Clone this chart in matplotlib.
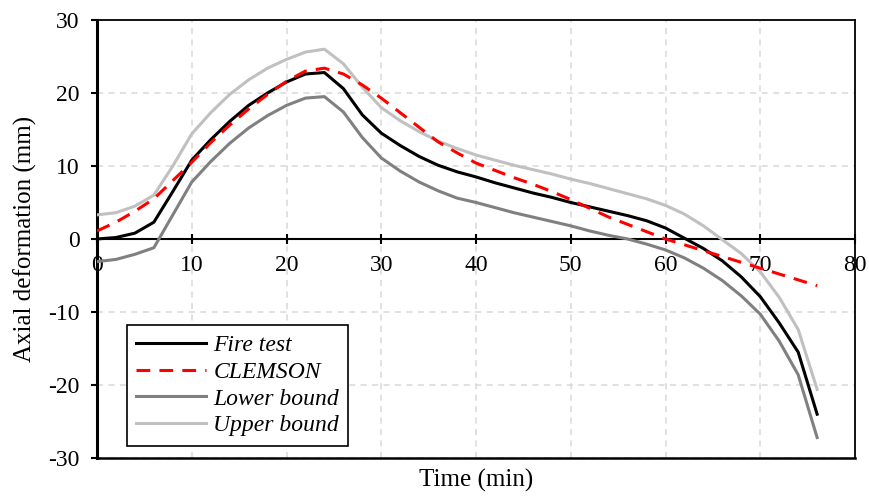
import numpy as np
import matplotlib.pyplot as plt

plt.rcParams['font.family'] = ['Liberation Serif', 'DejaVu Serif']
plt.rcParams['axes.unicode_minus'] = False

# time (min), every 2 minutes
time = np.arange(0, 77, 2)

fire_test = [0.0, 0.2, 0.8, 2.3, 6.5, 10.8, 13.6, 16.1, 18.3, 20.0, 21.5, 22.6, 22.8,
             20.6, 17.0, 14.5, 12.8, 11.3, 10.1, 9.2, 8.5, 7.7, 7.0, 6.3, 5.7, 5.0,
             4.4, 3.8, 3.2, 2.5, 1.5, 0.1, -1.3, -3.0, -5.2, -7.9, -11.5, -15.5, -24.0]
clemson = [1.1, 2.3, 3.8, 5.5, 8.0, 10.5, 13.2, 15.6, 17.8, 19.8, 21.6, 23.0, 23.4,
           22.6, 21.1, 19.3, 17.3, 15.3, 13.3, 11.8, 10.4, 9.4, 8.4, 7.5, 6.5, 5.4,
           4.2, 3.0, 2.0, 1.0, 0.0, -0.8, -1.6, -2.4, -3.2, -4.0, -4.8, -5.6, -6.4]
lower_bound = [-3.1, -2.8, -2.1, -1.2, 3.3, 7.8, 10.6, 13.1, 15.2, 16.9, 18.3, 19.3, 19.5,
               17.4, 13.9, 11.1, 9.3, 7.8, 6.6, 5.6, 5.0, 4.3, 3.6, 3.0, 2.4, 1.8,
               1.1, 0.5, 0.0, -0.7, -1.5, -2.6, -4.0, -5.7, -7.8, -10.3, -14.0, -18.6, -27.2]
upper_bound = [3.3, 3.6, 4.5, 6.0, 10.0, 14.4, 17.3, 19.8, 21.8, 23.4, 24.6, 25.6, 26.0,
               24.0, 20.8, 18.0, 16.2, 14.7, 13.4, 12.4, 11.5, 10.8, 10.1, 9.5, 8.9, 8.2,
               7.6, 6.9, 6.2, 5.5, 4.6, 3.4, 1.8, -0.1, -2.0, -4.5, -8.0, -12.4, -20.6]

x_ticks = [0, 10, 20, 30, 40, 50, 60, 70, 80]
y_ticks = [-30, -20, -10, 0, 10, 20, 30]

fig = plt.figure(figsize=(8.7, 4.97), dpi=100)
ax = fig.add_axes([0.1115, 0.0785, 0.8713, 0.8813])

ax.plot(time, fire_test, color='black', lw=2.2, label='Fire test', zorder=5)
ax.plot(time, clemson, color='#ff0000', lw=2.2, ls=(0, (4.5, 3)), label='CLEMSON', zorder=6)
ax.plot(time, lower_bound, color='#808080', lw=2.2, label='Lower bound', zorder=4)
ax.plot(time, upper_bound, color='#c0c0c0', lw=2.2, label='Upper bound', zorder=3)

ax.set_xlim(0, 80)
ax.set_ylim(-30, 30)
ax.set_xticks(x_ticks)
ax.set_yticks(y_ticks)

ax.set_axisbelow(True)
ax.grid(True, ls=(0, (4, 3.5)), color='#d9d9d9', lw=1.1)

# x axis crosses at y = 0, frame kept all round
ax.spines['bottom'].set_position(('data', 0))
for s in ['left', 'bottom', 'top', 'right']:
    ax.spines[s].set_color('black')
ax.spines['bottom'].set_linewidth(1.5)
ax.spines['left'].set_linewidth(2.2)
ax.spines['top'].set_linewidth(1.3)
ax.spines['right'].set_linewidth(1.3)
ax.plot([0, 1], [0, 0], transform=ax.transAxes, color='black', lw=1.8, clip_on=False)

ax.tick_params(axis='x', direction='inout', length=7, width=1.5, labelsize=17, pad=8)
ax.tick_params(axis='y', direction='out', length=4, width=1.5, labelsize=17, pad=8.5)

fig.text(0.029, 0.519, 'Axial deformation (mm)', rotation=90, ha='center', va='center', fontsize=18)
fig.text(0.547, 0.034, 'Time (min)', ha='center', va='center', fontsize=18)

leg = ax.legend(loc='lower left', bbox_to_anchor=(0.039, 0.028), borderaxespad=0,
                fancybox=False, edgecolor='black', framealpha=1,
                prop={'family': 'Liberation Serif', 'style': 'italic', 'size': 17},
                handlelength=2.97, handletextpad=0.3, labelspacing=0.22, borderpad=0.4)
leg.get_frame().set_linewidth(1.2)

fig.savefig('out.png', dpi=100)
